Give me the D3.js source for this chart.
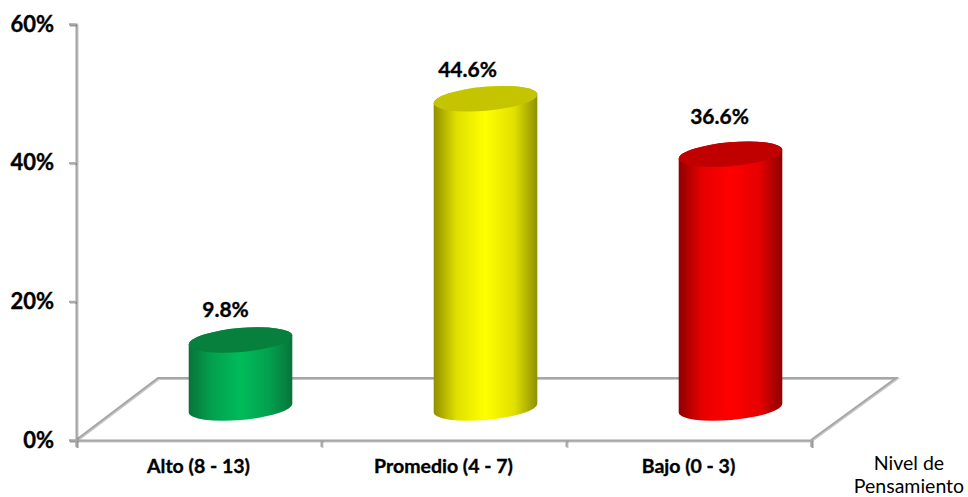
<!DOCTYPE html>
<html>
<head>
    <meta charset="utf-8">
    <title>Nivel de Pensamiento</title>
    <script src="https://d3js.org/d3.v7.min.js"></script>
    <style>
        html, body { margin: 0; padding: 0; background: #fff; }
        svg { display: block; }
        text { font-family: "Lato", "Open Sans", sans-serif; fill: #000; }
        .bold { font-weight: 700; stroke: #000; stroke-width: 0.35px; }
        .rule { filter: drop-shadow(1px 1px 0.6px rgba(0, 0, 0, 0.22)); }
    </style>
</head>
<body>
<div id="chart"></div>
<script>
    const categories = ['Alto (8 - 13)', 'Promedio (4 - 7)', 'Bajo (0 - 3)'];
    const values = [9.8, 44.6, 36.6];
    const yTicks = [0, 20, 40, 60];
    const axisTitle = ['Nivel de', 'Pensamiento'];

    // body colours: edge, mid, centre, and the darker top cap
    const palettes = [
        { edge: '#07743a', mid: '#03a04e', centre: '#00bb5a', top: '#06803c' },
        { edge: '#8f8f00', mid: '#e0e000', centre: '#ffff00', top: '#c4c400' },
        { edge: '#8f0000', mid: '#e60000', centre: '#ff0000', top: '#c00000' }
    ];

    const width = 968, height = 497;
    const plotLeft = 76, plotRight = 811, plotBottom = 440, plotTop = 24;
    const depthX = 83, depthY = 62;      // floor skew
    const rx = 52, ry = 12, tilt = -5;   // cylinder ellipse
    const axisColor = '#a6a6a6';

    const svg = d3.select('#chart').append('svg')
        .attr('width', width)
        .attr('height', height);

    const x = d3.scaleBand().domain(categories).range([plotLeft, plotRight]);
    const xEdges = d3.scaleLinear().domain([0, 3]).range([plotLeft, plotRight]);
    const y = d3.scaleLinear().domain([0, 60]).range([plotBottom, plotTop]);

    // floor
    const floor = svg.append('g')
        .attr('class', 'rule')
        .attr('fill', 'none')
        .attr('stroke', axisColor)
        .attr('stroke-width', 2);
    floor.append('path')
        .attr('d', `M${plotLeft},${plotBottom} L${plotLeft + depthX - 1},${plotBottom - depthY} L${plotRight + depthX + 2},${plotBottom - depthY} L${plotRight},${plotBottom}`);

    // axes
    const yAxis = svg.append('g')
        .attr('transform', `translate(${plotLeft},0)`)
        .call(d3.axisLeft(y).tickValues(yTicks).tickSize(7).tickPadding(6).tickFormat(d => d + '%'));
    yAxis.selectAll('path, line').attr('class', 'rule').attr('stroke', axisColor).attr('stroke-width', 2);
    yAxis.selectAll('text')
        .attr('class', 'bold')
        .attr('x', -22)
        .attr('dy', '0.32em')
        .style('font-size', '22px');

    const xAxis = svg.append('g')
        .attr('transform', `translate(0,${plotBottom})`)
        .call(d3.axisBottom(xEdges).ticks(3).tickSize(7).tickFormat(''));
    xAxis.selectAll('path, line').attr('class', 'rule').attr('stroke', axisColor).attr('stroke-width', 2);

    svg.append('g').selectAll('text')
        .data(categories)
        .enter()
        .append('text')
        .attr('class', 'bold')
        .text(d => d)
        .attr('x', d => x(d) + x.bandwidth() / 2)
        .attr('y', 473)
        .attr('text-anchor', 'middle')
        .style('font-size', '19.5px');

    // gradients
    const defs = svg.append('defs');
    palettes.forEach((p, i) => {
        const g = defs.append('linearGradient').attr('id', 'body' + i);
        [[0, p.edge], [0.22, p.mid], [0.5, p.centre], [0.78, p.mid], [1, p.edge]].forEach(s => {
            g.append('stop').attr('offset', s[0]).attr('stop-color', s[1]);
        });
    });

    // cylinders
    const t = tilt * Math.PI / 180;
    const dx = rx * Math.cos(t), dy = rx * Math.sin(t);
    const cylinders = svg.append('g').selectAll('g')
        .data(categories.map((c, i) => ({ c, v: values[i], i })))
        .enter()
        .append('g')
        .attr('transform', d => `translate(${x(d.c) + x.bandwidth() / 2 + 42},0)`);

    const baseY = y(0) - 32;
    const topY = d => baseY - (y(0) - y(d.v));

    cylinders.append('path')
        .attr('fill', d => `url(#body${d.i})`)
        .attr('d', d => `M${-dx},${topY(d) - dy} L${-dx},${baseY - dy}`
            + ` A${rx},${ry} ${tilt} 0 0 ${dx},${baseY + dy}`
            + ` L${dx},${topY(d) + dy}`
            + ` A${rx},${ry} ${tilt} 0 0 ${-dx},${topY(d) - dy} Z`);

    cylinders.append('ellipse')
        .attr('rx', rx)
        .attr('ry', ry)
        .attr('fill', d => palettes[d.i].top)
        .attr('transform', d => `translate(0,${topY(d)}) rotate(${tilt})`);

    // value labels sit by hand in the original, so nudges per bar
    const labelDx = [-15, -18, -11];
    const labelDy = [-23, -22, -30];
    cylinders.append('text')
        .attr('class', 'bold')
        .text(d => d.v.toFixed(1) + '%')
        .attr('x', d => labelDx[d.i])
        .attr('y', d => topY(d) + labelDy[d.i])
        .attr('text-anchor', 'middle')
        .style('font-size', '21px');

    // x axis title
    svg.append('g').selectAll('text')
        .data(axisTitle)
        .enter()
        .append('text')
        .text(d => d)
        .attr('x', 909)
        .attr('y', (d, i) => 470 + i * 23)
        .attr('text-anchor', 'middle')
        .style('font-size', '19.5px');
</script>
</body>
</html>
